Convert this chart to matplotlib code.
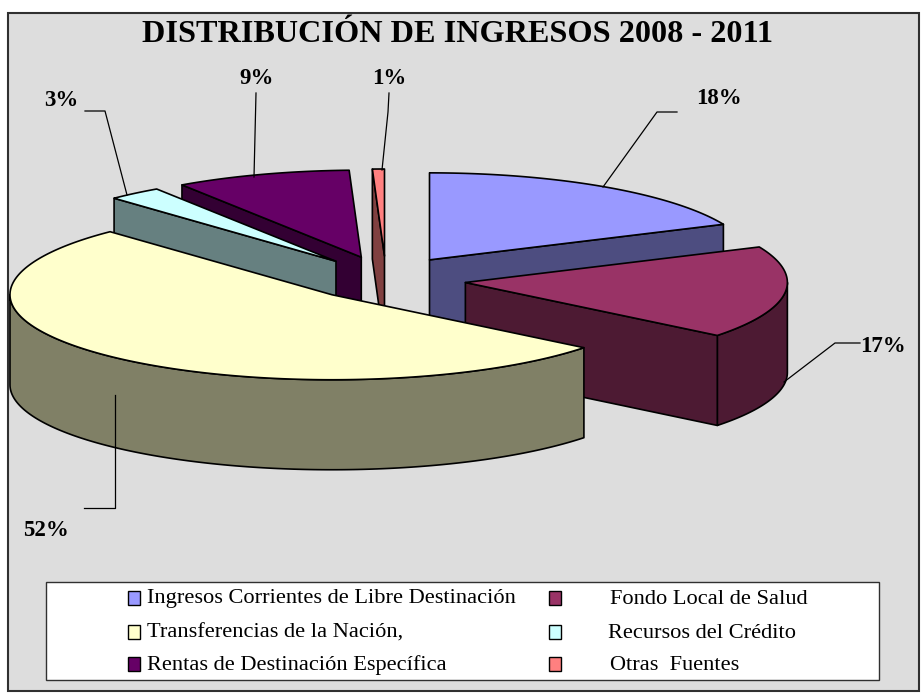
import numpy as np
import matplotlib
matplotlib.use("Agg")
import matplotlib.pyplot as plt
from matplotlib.patches import Polygon, Rectangle

# Donnees du graphique
categorias = ["Ingresos Corrientes de Libre Destinación", "Fondo Local de Salud",
              "Transferencias de la Nación,", "Recursos del Crédito",
              "Rentas de Destinación Específica", "Otras  Fuentes"]
valores = [18.3, 17.4, 52.2, 2.7, 8.8, 0.6]
colores = ["#9999FF", "#993366", "#FFFFCC", "#CCFFFF", "#660066", "#FF8080"]
laterales = ["#4D4D80", "#4D1A33", "#808066", "#668080", "#330033", "#804040"]
titulo = "DISTRIBUCIÓN DE INGRESOS 2008 - 2011"

# geometrie en pixels de l'image
cx, cy = 386, 280
ra = 322
ea = 80
alto = 90

plt.rcParams["font.family"] = ["Liberation Serif", "DejaVu Serif"]
fig = plt.figure(figsize=(9.22, 6.95), dpi=100)
ax = fig.add_axes([0, 0, 1, 1])
ax.set_xlim(0, 922)
ax.set_ylim(695, 0)
ax.axis("off")

ax.add_patch(Rectangle((8, 13), 911, 678, fc="#DDDDDD", ec="#303030", lw=1.5, zorder=0))


def punto(theta, ox, oy):
    # le fond de l'ellipse est un peu plus haut que l'avant
    c = np.cos(theta)
    rb = np.where(c > 0, 87, 85)
    return ox + ra * np.sin(theta), oy - rb * c


bornes = np.radians(np.concatenate([[0], np.cumsum(valores)]) * 3.6)
orden = [5, 4, 3, 0, 1, 2]  # du fond vers l'avant
z = 1
for i in orden:
    t0, t1 = bornes[i], bornes[i + 1]
    mid = (t0 + t1) / 2
    eb = 24 if np.cos(mid) > 0 else 20
    ox = cx + ea * np.sin(mid)
    oy = cy - eb * np.cos(mid)
    ts = np.linspace(t0, t1, 200)
    xs, ys = punto(ts, ox, oy)
    borde = dict(ec="black", lw=1.2, joinstyle="round")

    # paroi exterieure: seulement la moitie avant
    lo, hi = max(t0, np.pi / 2), min(t1, 3 * np.pi / 2)
    if lo < hi:
        tf = np.linspace(lo, hi, 200)
        xf, yf = punto(tf, ox, oy)
        pts = np.r_[np.c_[xf, yf], np.c_[xf, yf + alto][::-1]]
        ax.add_patch(Polygon(pts, fc=laterales[i], zorder=z, **borde))
    # parois radiales visibles
    if np.sin(t0) <= 1e-9:
        xe, ye = punto(t0, ox, oy)
        pts = [(ox, oy), (xe, ye), (xe, ye + alto), (ox, oy + alto)]
        ax.add_patch(Polygon(pts, fc=laterales[i], zorder=z, **borde))
    if np.sin(t1) > 0:
        xe, ye = punto(t1, ox, oy)
        pts = [(ox, oy), (xe, ye), (xe, ye + alto), (ox, oy + alto)]
        ax.add_patch(Polygon(pts, fc=laterales[i], zorder=z, **borde))
    # dessus
    ax.add_patch(Polygon(np.r_[[[ox, oy]], np.c_[xs, ys]], fc=colores[i], zorder=z + 0.5, **borde))
    z += 1

ax.text(457, 34, titulo, fontsize=23.2, fontweight="bold", ha="center", va="center", zorder=20)

# etiquettes et lignes de rappel
pos_etiquetas = [(719, 99), (883, 346), (46, 530), (61, 100), (257, 79), (389, 79)]
guias = [[(677, 112), (657, 112), (603, 187)],
         [(860, 343), (835, 343), (784, 382)],
         [(84, 508), (115, 508), (115, 395)],
         [(85, 111), (105, 111), (127, 195)],
         [(256, 93), (254, 177)],
         [(389, 93), (388, 112), (382, 170)]]
for v, p, g in zip(valores, pos_etiquetas, guias):
    ax.text(p[0], p[1], f"{v:.0f}%", fontsize=16.5, fontweight="bold", ha="center", va="center", zorder=20)
    ax.plot([q[0] for q in g], [q[1] for q in g], color="black", lw=0.9, zorder=15)

# legende
ax.add_patch(Rectangle((46, 582), 833, 98, fc="white", ec="#303030", lw=1.0, zorder=15))
filas = [598, 632, 664]
for i, nombre in enumerate(categorias):
    fila = filas[i // 2]
    if i % 2 == 0:
        mx, tx = 128, 147
    else:
        mx, tx = 549, [610, 608, 610][i // 2]
    ax.add_patch(Rectangle((mx, fila - 7), 12, 14, fc=colores[i], ec="black", lw=1.0, zorder=16))
    ax.text(tx, fila + 1, nombre, fontsize=16.1, ha="left", va="center", zorder=16)

fig.savefig("out.png", dpi=100, facecolor="white")
